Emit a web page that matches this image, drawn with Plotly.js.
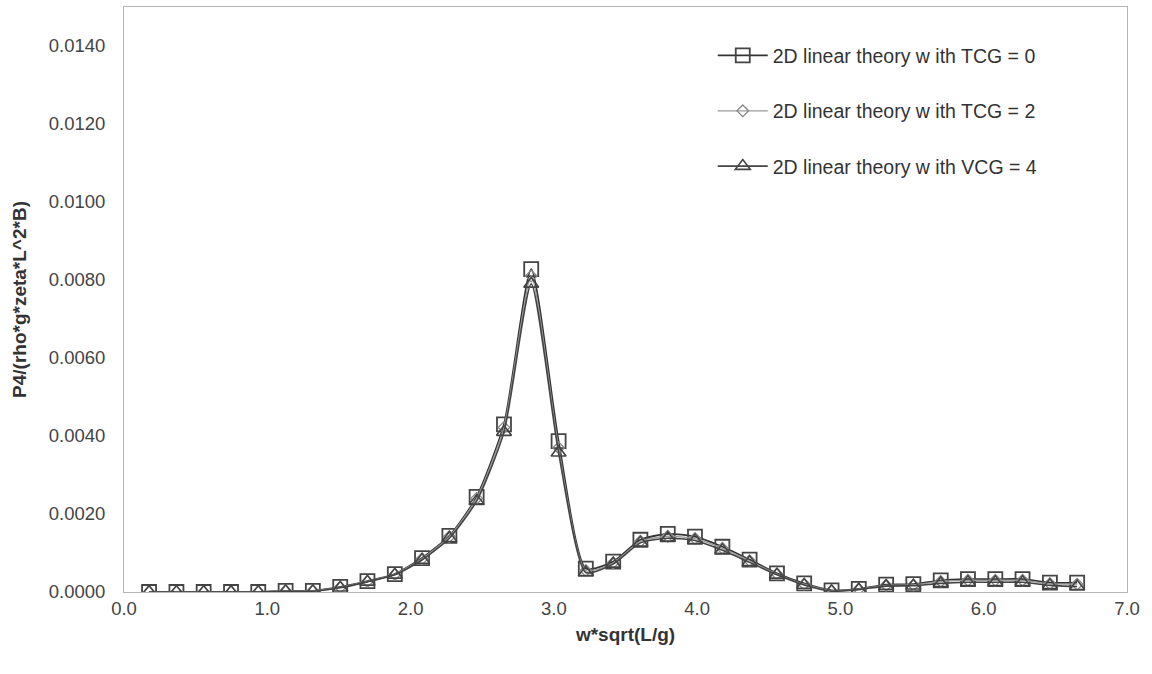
<!DOCTYPE html>
<html>
<head>
<meta charset="utf-8">
<script src="https://cdn.plot.ly/plotly-3.0.1.min.js"></script>
<style>html,body{margin:0;padding:0;background:#fff;}#chart{width:1152px;height:674px;}</style>
</head>
<body>
<div id="chart"></div>
<script>
const xValues = [0.175,0.366,0.556,0.747,0.937,1.128,1.318,1.509,1.699,1.890,2.080,2.271,2.461,2.652,2.842,3.033,3.223,3.414,3.604,3.795,3.985,4.176,4.366,4.557,4.747,4.938,5.128,5.319,5.509,5.700,5.890,6.081,6.271,6.462,6.652];
const tcg0 = [0,0,0,0,0,0.00003,0.00003,0.00013,0.00028,0.00046,0.00087,0.00144,0.00244,0.0043,0.00828,0.00387,0.00060,0.00078,0.00134,0.00149,0.00142,0.00116,0.00083,0.00048,0.00022,0.00004,0.00008,0.00019,0.0002,0.0003,0.00033,0.00033,0.00033,0.00024,0.00024];
const tcg2 = [0,0,0,0,0,0.00003,0.00003,0.00012,0.00027,0.00045,0.00085,0.00142,0.0024,0.00422,0.0081,0.0037,0.00055,0.00075,0.0013,0.00143,0.00137,0.00112,0.0008,0.00046,0.0002,0.00003,0.00007,0.00017,0.00018,0.00027,0.0003,0.0003,0.0003,0.00021,0.0002];
const vcg4 = [0,0,0,0,0,0.00002,0.00002,0.00011,0.00026,0.00044,0.00082,0.00138,0.00233,0.0041,0.0079,0.00357,0.00050,0.00072,0.00126,0.00138,0.00132,0.00107,0.00076,0.00044,0.00018,0.00002,0.00006,0.00015,0.00016,0.00022,0.00025,0.00025,0.00025,0.00017,0.00014];
const names = ["2D linear theory w ith TCG = 0","2D linear theory w ith TCG = 2","2D linear theory w ith VCG = 4"];
const yTicks = [0,0.002,0.004,0.006,0.008,0.010,0.012,0.014];
const yTickText = ["0.0000","0.0020","0.0040","0.0060","0.0080","0.0100","0.0120","0.0140"];
const xTicks = [0,1,2,3,4,5,6,7];
const xTickText = ["0.0","1.0","2.0","3.0","4.0","5.0","6.0","7.0"];

const traces = [
  {x:xValues,y:tcg0,name:names[0],legendgroup:'a',mode:'lines+markers',
   line:{color:'#333',width:1.8,shape:'spline',smoothing:0.6},
   marker:{symbol:'square-open',size:14,color:'#444',line:{width:1.8,color:'#444'}}},
  {x:xValues,y:tcg2,name:names[1],legendgroup:'b',mode:'lines+markers',
   line:{color:'#9a9a9a',width:1.3,shape:'spline',smoothing:0.6},
   marker:{symbol:'diamond-open',size:9,color:'#888',line:{width:1.3,color:'#888'}}},
  {x:xValues,y:vcg4,name:names[2],legendgroup:'c',mode:'lines+markers',
   line:{color:'#444',width:1.6,shape:'spline',smoothing:0.6},
   marker:{symbol:'triangle-up-open',size:13,color:'#444',line:{width:1.6,color:'#444'}}}
];

const layout = {
  width:1152,height:674,
  margin:{l:124,r:25,t:7,b:82},
  paper_bgcolor:'#fff',plot_bgcolor:'#fff',
  font:{family:'Liberation Sans, Arial, sans-serif',color:'#444',size:19},
  showlegend:true,
  legend:{x:0.587,y:0.95,xanchor:'left',yanchor:'top',bgcolor:'rgba(0,0,0,0)',
    font:{size:19.5,color:'#333'},tracegroupgap:27,itemwidth:50},
  xaxis:{range:[0,7],tickvals:xTicks,ticktext:xTickText,showgrid:false,zeroline:false,
    showline:true,linecolor:'#b5b5b5',linewidth:1,mirror:true,ticks:'',
    tickfont:{size:18.5,color:'#444'},ticklabelstandoff:0,
    title:{text:'<b>w*sqrt(L/g)</b>',font:{size:19,color:'#333'},standoff:9}},
  yaxis:{range:[0,0.015],tickvals:yTicks,ticktext:yTickText,showgrid:false,zeroline:false,
    showline:true,linecolor:'#b5b5b5',linewidth:1,mirror:true,ticks:'',
    tickfont:{size:18.5,color:'#444'},ticklabelstandoff:14,
    title:{text:'<b>P4/(rho*g*zeta*L^2*B)</b>',font:{size:19,color:'#333'},standoff:17}}
};
Plotly.newPlot('chart',traces,layout,{displayModeBar:false,staticPlot:true});
</script>
</body>
</html>
